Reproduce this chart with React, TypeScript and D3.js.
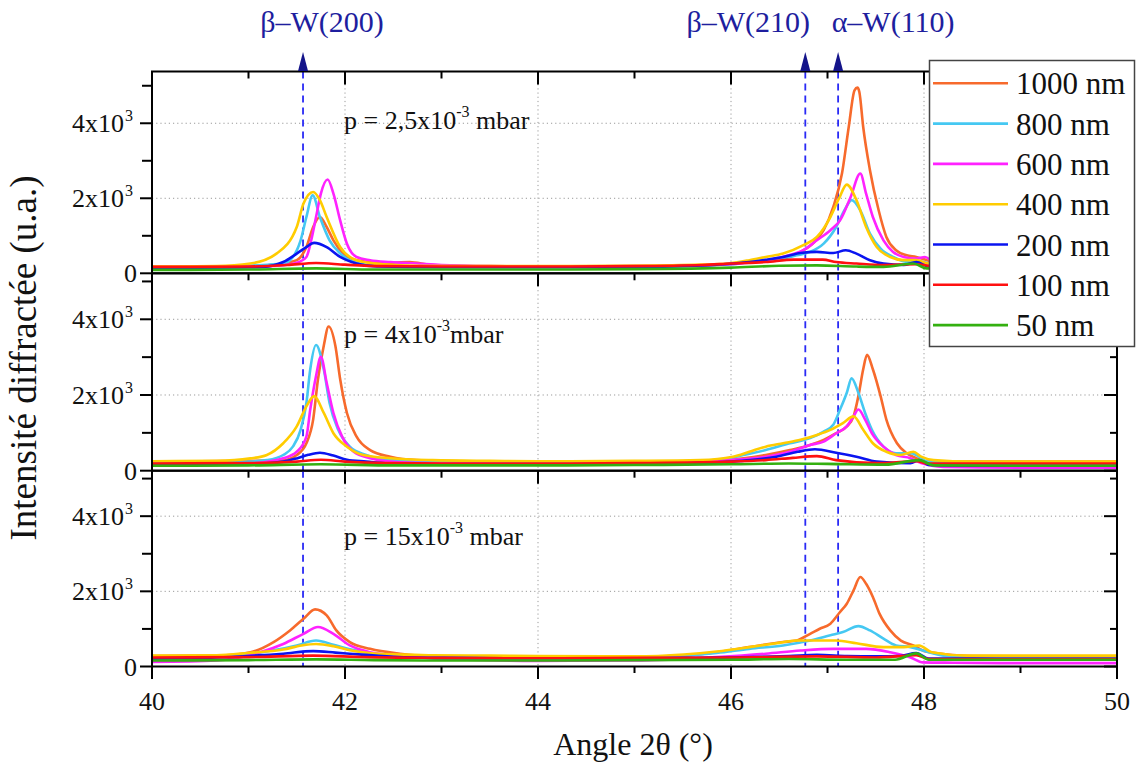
import React from "react";
import * as d3 from "d3";

type Pt = [number, number];

// ---------- categories ----------
const THICKNESS = ["1000 nm", "800 nm", "600 nm", "400 nm", "200 nm", "100 nm", "50 nm"];
const COLORS = ["#f76a2c", "#45c8f2", "#ff22ff", "#ffcc00", "#0a14f0", "#ff1010", "#34b010"];
const PRESSURE_MANT = ["p = 2,5x10", "p = 4x10", "p = 15x10"];
const PRESSURE_EXP = ["-3", "-3", "-3"];
const PRESSURE_UNIT = [" mbar", "mbar", " mbar"];
const PHASES = ["\u03b2\u2013W(200)", "\u03b2\u2013W(210)", "\u03b1\u2013W(110)"];
const PHASE_ANGLE = [41.565, 46.77, 47.11];
const X_MAJOR = [40, 42, 44, 46, 48, 50];
const X_MINOR = [41, 43, 45, 47, 49];
const Y_MAJOR = [0, 2000, 4000];
const Y_MINOR = [1000, 3000, 5000];
const Y_MANT = ["0", "2x10", "4x10"];
const Y_EXP = ["", "3", "3"];
const PANEL_MAX = [5380, 5215, 5210];

// ---------- panel 1 : p = 2,5x10-3 mbar ----------
const p1_1000: Pt[] = [[40,170],[40.5,170],[41,190],[41.3,240],[41.5,350],[41.6,700],[41.67,1235],[41.74,1500],[41.81,1235],[41.88,880],[41.98,530],[42.12,350],[42.4,275],[42.67,300],[42.9,220],[43.5,190],[44,185],[45,190],[45.5,200],[45.85,230],[46.19,300],[46.54,400],[46.72,570],[46.85,800],[46.96,1150],[47.06,1770],[47.15,2660],[47.22,3900],[47.28,4880],[47.31,4950],[47.33,4835],[47.37,3900],[47.44,2750],[47.53,1680],[47.61,970],[47.71,615],[47.82,480],[47.92,435],[48.03,350],[48.2,250],[48.5,200],[49,190],[50,180]];
const p1_800: Pt[] = [[40,160],[40.5,165],[41,200],[41.2,230],[41.36,260],[41.46,435],[41.54,880],[41.6,1500],[41.665,2080],[41.74,1500],[41.84,880],[41.95,530],[42.09,300],[42.33,200],[43,180],[44,175],[45,180],[45.5,200],[46,240],[46.19,300],[46.54,390],[46.68,480],[46.82,570],[46.96,790],[47.09,1235],[47.18,1700],[47.25,1950],[47.34,1680],[47.44,1060],[47.55,660],[47.68,435],[47.86,300],[47.95,320],[48.1,230],[48.5,180],[49,170],[50,165]];
const p1_600: Pt[] = [[40,150],[40.5,155],[41,170],[41.3,200],[41.5,280],[41.6,435],[41.65,880],[41.7,1500],[41.75,2125],[41.82,2500],[41.88,2125],[41.95,1410],[42.02,790],[42.12,435],[42.26,350],[42.47,300],[42.74,260],[43,220],[44,180],[45,180],[45.5,200],[46,240],[46.3,320],[46.55,450],[46.75,615],[46.89,880],[47.03,1150],[47.13,1410],[47.24,2035],[47.34,2660],[47.4,2125],[47.47,1500],[47.58,880],[47.68,570],[47.79,435],[47.92,390],[48.01,435],[48.1,300],[48.5,180],[49,160],[50,150]];
const p1_400: Pt[] = [[40,180],[40.67,190],[41.02,260],[41.29,525],[41.5,1235],[41.57,1860],[41.67,2168],[41.74,1950],[41.81,1500],[41.95,700],[42.12,350],[42.4,240],[42.74,200],[43.5,190],[44,190],[45,200],[45.68,230],[45.99,270],[46.19,350],[46.36,435],[46.54,525],[46.75,750],[46.89,970],[47.03,1500],[47.12,2000],[47.2,2365],[47.3,1950],[47.4,1235],[47.51,700],[47.65,435],[47.79,350],[47.92,350],[48.03,270],[48.3,210],[49,200],[50,200]];
const p1_200: Pt[] = [[40,150],[40.5,150],[41,160],[41.15,170],[41.36,300],[41.5,525],[41.6,700],[41.68,810],[41.81,700],[41.95,435],[42.12,260],[42.33,180],[43,160],[44,160],[45,170],[45.5,190],[45.85,230],[46.19,300],[46.36,360],[46.54,435],[46.72,540],[46.89,570],[47.06,540],[47.19,615],[47.3,525],[47.44,350],[47.58,260],[47.79,220],[47.92,300],[48.05,180],[48.5,150],[49,150],[50,150]];
const p1_100: Pt[] = [[40,170],[41,180],[41.4,220],[41.7,275],[42,230],[42.4,190],[43,180],[44,180],[45,190],[45.7,220],[46,260],[46.36,300],[46.65,365],[46.95,365],[47.09,300],[47.3,260],[47.58,220],[47.92,240],[48.1,190],[49,180],[50,180]];
const p1_50: Pt[] = [[40,90],[41,100],[41.7,130],[42.3,100],[43,100],[44,100],[45,110],[46,150],[46.5,200],[46.89,210],[47.3,180],[47.58,170],[47.89,260],[48.03,130],[49,110],[50,110]];

// ---------- panel 2 : p = 4x10-3 mbar ----------
const p2_1000: Pt[] = [[40,240],[40.5,250],[41,260],[41.36,280],[41.5,415],[41.6,725],[41.67,1350],[41.72,2415],[41.78,3300],[41.83,3810],[41.9,3300],[41.95,2415],[42.02,1525],[42.12,900],[42.26,545],[42.47,370],[42.74,280],[43.2,250],[44,240],[45,240],[45.5,250],[45.85,280],[46.13,330],[46.36,415],[46.61,545],[46.82,680],[46.96,815],[47.09,990],[47.2,1170],[47.27,1435],[47.32,1970],[47.37,2680],[47.41,3060],[47.47,2680],[47.55,1970],[47.61,1350],[47.72,725],[47.82,460],[47.92,330],[48.03,240],[48.5,240],[49,240],[50,240]];
const p2_800: Pt[] = [[40,220],[40.5,225],[41,240],[41.19,280],[41.36,415],[41.46,635],[41.54,1080],[41.6,1790],[41.64,2680],[41.7,3320],[41.78,2680],[41.84,1790],[41.93,1080],[42.05,635],[42.22,415],[42.47,280],[43,240],[44,220],[45,230],[45.5,250],[45.85,280],[46.13,415],[46.36,545],[46.61,725],[46.82,860],[46.96,1035],[47.06,1215],[47.13,1615],[47.2,2060],[47.25,2440],[47.32,2060],[47.39,1525],[47.46,1080],[47.58,635],[47.71,460],[47.86,460],[47.92,415],[48.03,240],[48.5,200],[49,190],[50,190]];
const p2_600: Pt[] = [[40,150],[40.5,160],[41,190],[41.36,330],[41.5,500],[41.6,900],[41.64,1615],[41.7,2500],[41.75,3010],[41.81,2325],[41.88,1525],[41.97,900],[42.09,500],[42.26,330],[42.47,240],[43,190],[44,170],[45,180],[45.5,210],[46,280],[46.36,370],[46.61,500],[46.82,680],[46.96,770],[47.09,990],[47.2,1170],[47.27,1435],[47.32,1615],[47.39,1350],[47.46,990],[47.58,635],[47.71,415],[47.86,330],[47.97,200],[48.2,100],[49,80],[50,80]];
const p2_400: Pt[] = [[40,250],[40.67,260],[41.02,325],[41.19,415],[41.36,725],[41.5,1170],[41.6,1700],[41.68,1970],[41.78,1525],[41.88,990],[42.02,635],[42.19,415],[42.47,330],[42.91,280],[43.5,260],[44,250],[45,260],[45.68,280],[46.02,370],[46.19,500],[46.36,635],[46.54,725],[46.72,815],[46.89,945],[47.03,1080],[47.16,1260],[47.27,1435],[47.37,1080],[47.47,725],[47.61,500],[47.75,415],[47.89,500],[47.97,370],[48.1,280],[48.5,240],[49,240],[50,240]];
const p2_200: Pt[] = [[40,150],[40.5,150],[41,170],[41.36,240],[41.5,325],[41.62,420],[41.74,475],[41.88,400],[42.02,290],[42.22,240],[42.5,180],[43,160],[44,160],[45,170],[45.5,190],[46,240],[46.2,280],[46.47,370],[46.69,500],[46.87,565],[47.09,475],[47.3,370],[47.51,240],[47.86,200],[47.95,280],[48.05,150],[48.5,130],[49,130],[50,130]];
const p2_100: Pt[] = [[40,190],[41,200],[41.5,240],[41.75,290],[42,240],[42.5,200],[43,190],[44,190],[45,200],[46,240],[46.36,280],[46.64,340],[46.89,385],[47.09,280],[47.51,200],[47.92,250],[48.05,190],[49,190],[50,190]];
const p2_50: Pt[] = [[40,130],[41,140],[41.75,170],[42.5,140],[43,140],[44,140],[45,150],[46,170],[46.6,190],[47,180],[47.6,160],[47.95,280],[48.1,140],[49,130],[50,130]];

// ---------- panel 3 : p = 15x10-3 mbar ----------
const p3_1000: Pt[] = [[40,280],[40.67,290],[41.02,380],[41.26,650],[41.43,960],[41.57,1270],[41.69,1520],[41.81,1360],[41.91,960],[42.05,650],[42.26,470],[42.57,340],[42.91,270],[43.5,250],[44,240],[45,250],[45.51,290],[45.85,380],[46.19,515],[46.54,650],[46.68,690],[46.82,870],[46.92,1005],[47.03,1140],[47.13,1450],[47.2,1670],[47.27,2025],[47.34,2380],[47.4,2200],[47.47,1850],[47.54,1400],[47.65,960],[47.76,690],[47.89,560],[47.99,425],[48.2,330],[48.5,280],[49,270],[50,260]];
const p3_800: Pt[] = [[40,260],[40.67,280],[41,330],[41.3,450],[41.5,560],[41.7,690],[41.88,580],[42.05,460],[42.26,360],[42.6,290],[43,260],[44,240],[45,250],[45.5,290],[45.85,360],[46.19,470],[46.54,560],[46.82,690],[47.03,830],[47.16,915],[47.32,1075],[47.44,960],[47.58,740],[47.71,560],[47.86,515],[47.99,425],[48.2,290],[48.5,240],[49,220],[50,210]];
const p3_600: Pt[] = [[40,120],[40.67,160],[41.12,380],[41.36,600],[41.57,870],[41.72,1050],[41.88,870],[42.05,560],[42.26,380],[42.57,290],[43,200],[44,150],[45,160],[45.85,250],[46.36,340],[46.72,425],[47.06,470],[47.4,470],[47.65,380],[47.86,240],[47.99,110],[48.3,100],[49,90],[50,90]];
const p3_400: Pt[] = [[40,290],[40.67,300],[41,360],[41.36,450],[41.55,560],[41.7,600],[41.88,540],[42.05,430],[42.4,330],[42.9,300],[43.5,290],[44,280],[45,270],[45.51,320],[45.85,400],[46.19,515],[46.47,620],[46.68,690],[46.89,690],[47.09,690],[47.3,620],[47.58,515],[47.79,515],[47.95,560],[48.08,380],[48.44,290],[49,290],[50,290]];
const p3_200: Pt[] = [[40,210],[40.67,240],[41,280],[41.36,340],[41.67,410],[41.9,370],[42.05,340],[42.5,260],[43,230],[44,220],[45,220],[45.5,230],[46.19,250],[46.6,280],[46.89,310],[47.2,280],[47.5,270],[47.75,280],[47.92,355],[48.05,210],[48.5,210],[49,205],[50,205]];
const p3_100: Pt[] = [[40,240],[41,250],[41.67,290],[42.2,250],[43,230],[44,220],[45,230],[46,240],[46.89,270],[47.5,240],[47.92,300],[48.05,200],[49,200],[50,200]];
const p3_50: Pt[] = [[40,160],[41,170],[41.7,190],[42.3,170],[43,160],[44,160],[45,170],[46,180],[46.6,200],[47.2,180],[47.7,180],[47.92,350],[48.05,180],[49,180],[50,180]];

const PANEL_SERIES: Pt[][][] = [
  [p1_1000, p1_800, p1_600, p1_400, p1_200, p1_100, p1_50],
  [p2_1000, p2_800, p2_600, p2_400, p2_200, p2_100, p2_50],
  [p3_1000, p3_800, p3_600, p3_400, p3_200, p3_100, p3_50],
];

// ---------- layout ----------
const W = 1137;
const H = 766;
const LEFT = 152;
const RIGHT = 1117;
const PANEL_TOPS = [71.5, 273.3, 470.7];
const PANEL_BOTTOMS = [273.3, 470.7, 666.5];
const FONT = "Liberation Serif, Times New Roman, serif";
const PHASE_LABEL_DX = [19, -57, 55];
const TXT = { fontFamily: FONT };

export default function App() {
  const x = d3.scaleLinear().domain([40, 50]).range([LEFT, RIGHT]);
  const panels = PANEL_TOPS.map((top, i) => ({
    top,
    bottom: PANEL_BOTTOMS[i],
    y: d3.scaleLinear().domain([0, PANEL_MAX[i]]).range([PANEL_BOTTOMS[i], top]),
  }));

  return (
    <svg
      width={W}
      height={H}
      viewBox={`0 0 ${W} ${H}`}
      style={{ position: "absolute", left: 0, top: 0, background: "#fff", fontFamily: FONT }}
    >
      <defs>
        {panels.map((p, i) => (
          <clipPath id={`clip${i}`} key={i}>
            <rect x={LEFT} y={p.top} width={RIGHT - LEFT} height={p.bottom - p.top} />
          </clipPath>
        ))}
      </defs>

      {panels.map((p, pi) => {
        const line = d3
          .line<Pt>()
          .x((d) => x(d[0]))
          .y((d) => p.y(d[1]))
          .curve(d3.curveMonotoneX);
        return (
          <g key={pi}>
            {[42, 44, 46, 48].map((v) => (
              <line key={"gx" + v} x1={x(v)} x2={x(v)} y1={p.top} y2={p.bottom} stroke="#9a9a9a" strokeWidth={1} strokeDasharray="1.2 3" />
            ))}
            {[2000, 4000].map((v) => (
              <line key={"gy" + v} x1={LEFT} x2={RIGHT} y1={p.y(v)} y2={p.y(v)} stroke="#9a9a9a" strokeWidth={1} strokeDasharray="1.2 3" />
            ))}
            {PHASE_ANGLE.map((a, k) => (
              <line key={"ph" + k} x1={x(a)} x2={x(a)} y1={p.top} y2={p.bottom} stroke="#2a2af5" strokeWidth={1.8} strokeDasharray="7 5" />
            ))}
            <g clipPath={`url(#clip${pi})`}>
              {PANEL_SERIES[pi].map((s, si) => (
                <path key={si} d={line(s) || ""} fill="none" stroke={COLORS[si]} strokeWidth={2.6} strokeLinejoin="round" />
              ))}
            </g>
            <text x={344} y={[129, 343, 545][pi]} fontSize={26} fill="#111" style={TXT}>
              {PRESSURE_MANT[pi]}
              <tspan fontSize={16} dy={-12}>{PRESSURE_EXP[pi]}</tspan>
              <tspan dy={12}>{PRESSURE_UNIT[pi]}</tspan>
            </text>
            <rect x={LEFT} y={p.top} width={RIGHT - LEFT} height={p.bottom - p.top} fill="none" stroke="#000" strokeWidth={2} />
            {X_MAJOR.map((v) => (
              <line key={"tM" + v} x1={x(v)} x2={x(v)} y1={p.top} y2={p.top + 13} stroke="#000" strokeWidth={2} />
            ))}
            {X_MINOR.map((v) => (
              <line key={"tm" + v} x1={x(v)} x2={x(v)} y1={p.top} y2={p.top + 7} stroke="#000" strokeWidth={2} />
            ))}
            {Y_MAJOR.map((v, k) => (
              <g key={"yl" + v}>
                <line x1={LEFT - 12} x2={LEFT} y1={p.y(v)} y2={p.y(v)} stroke="#000" strokeWidth={2} />
                <text x={k === 0 ? 137 : 124} y={p.y(v) + 9} fontSize={26} textAnchor="end" fill="#111" style={TXT}>
                  {Y_MANT[k]}
                </text>
                {Y_EXP[k] && (
                  <text x={125} y={p.y(v) - 2} fontSize={16} fill="#111" style={TXT}>
                    {Y_EXP[k]}
                  </text>
                )}
              </g>
            ))}
            {Y_MINOR.map((v) => (
              <line key={"ylm" + v} x1={LEFT - 10} x2={LEFT} y1={p.y(v)} y2={p.y(v)} stroke="#000" strokeWidth={2} />
            ))}
            {Y_MAJOR.map((v) => (
              <line key={"yr" + v} x1={RIGHT - 13} x2={RIGHT} y1={p.y(v)} y2={p.y(v)} stroke="#000" strokeWidth={2} />
            ))}
            {Y_MINOR.map((v) => (
              <line key={"yrm" + v} x1={RIGHT - 7} x2={RIGHT} y1={p.y(v)} y2={p.y(v)} stroke="#000" strokeWidth={2} />
            ))}
          </g>
        );
      })}

      {X_MAJOR.map((v) => (
        <g key={"bx" + v}>
          <line x1={x(v)} x2={x(v)} y1={666.5} y2={679} stroke="#000" strokeWidth={2} />
          <text x={x(v)} y={710} fontSize={26} textAnchor="middle" fill="#111" style={TXT}>
            {v}
          </text>
        </g>
      ))}
      {X_MINOR.map((v) => (
        <line key={"bxm" + v} x1={x(v)} x2={x(v)} y1={666.5} y2={673} stroke="#000" strokeWidth={2} />
      ))}

      <text x={633} y={755} fontSize={32} textAnchor="middle" fill="#111" style={TXT}>
        Angle 2θ (°)
      </text>
      <text transform="translate(36,358) rotate(-90)" fontSize={37} textAnchor="middle" fill="#111" style={TXT}>
        Intensité diffractée (u.a.)
      </text>

      {PHASE_ANGLE.map((a, k) => (
        <g key={"pm" + k}>
          <path d={`M${x(a) - 5},71 L${x(a) + 5},71 L${x(a)},52 Z`} fill="#14148a" />
          <text x={x(a) + PHASE_LABEL_DX[k]} y={32} fontSize={30} textAnchor="middle" fill="#1e1e9e" style={TXT}>
            {PHASES[k]}
          </text>
        </g>
      ))}

      <g>
        <rect x={929.5} y={60.5} width={205} height={286} fill="#fff" stroke="#444" strokeWidth={1.5} />
        {THICKNESS.map((t, i) => {
          const yy = 83.3 + i * 40.3;
          return (
            <g key={t}>
              <line x1={933} x2={1008} y1={yy} y2={yy} stroke={COLORS[i]} strokeWidth={2.6} />
              <text x={1016} y={yy + 11} fontSize={31} fill="#111" style={TXT}>
                {t}
              </text>
            </g>
          );
        })}
      </g>
    </svg>
  );
}
